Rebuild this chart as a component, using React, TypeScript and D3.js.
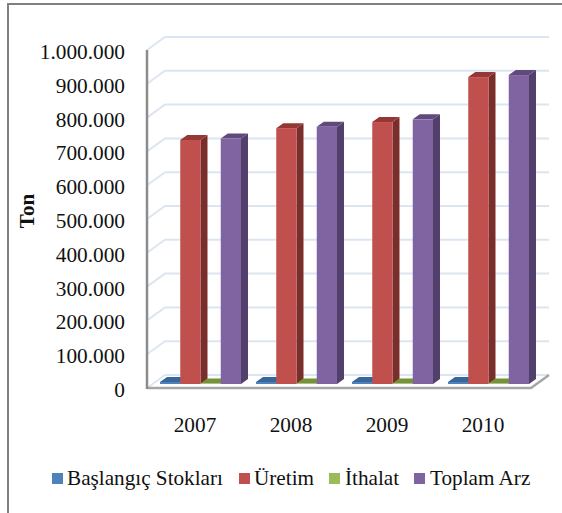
import React from "react";
import * as d3 from "d3";

const years = ["2007", "2008", "2009", "2010"];
const seriesNames = ["Başlangıç Stokları", "Üretim", "İthalat", "Toplam Arz"];
const stocks = [6000, 6000, 6000, 6000];
const production = [722000, 757000, 775000, 908000];
const imports = [1500, 1500, 1500, 1500];
const supply = [726000, 761000, 783000, 914000];
const seriesValues = [stocks, production, imports, supply];
const tickValues = [0, 100000, 200000, 300000, 400000, 500000, 600000, 700000, 800000, 900000, 1000000];
const tickLabels = ["0", "100.000", "200.000", "300.000", "400.000", "500.000", "600.000", "700.000", "800.000", "900.000", "1.000.000"];

const front = ["#4F81BD", "#C0504D", "#9BBB59", "#8064A2"];
const top = ["#3A6596", "#953735", "#76923C", "#5F4A7B"];
const side = ["#2F5480", "#7A2E2C", "#5F7830", "#533F6C"];
const legendX = [[52, 67], [239, 254], [329, 345], [414, 430]];

const FONT = "'Liberation Serif', serif";
const wallDx = 18;
const wallDy = 13;
const barDx = 7;
const barDy = 5;
const baseShift = 4;

const pts = (p: number[][]) => p.map((d) => d.join(",")).join(" ");

const App = () => {
  const y = d3.scaleLinear().domain([0, 1000000]).range([388, 50]);
  const x = d3.scaleBand().domain(years).range([160, 529]).paddingInner(15 / 96);
  const inner = d3.scaleBand().domain(seriesNames).range([0, x.bandwidth()]);
  const left = 147;
  const right = 531;
  const w = inner.bandwidth();

  return (
    <svg width={562} height={513} style={{ position: "absolute", left: 0, top: 0, background: "#fff" }}>
      <path d="M8 513V4H562" fill="none" stroke="#808080" strokeWidth={2} />

      {tickValues.map((v) => (
        <g key={v} fill="none" stroke="#DCE6F2" strokeWidth={2}>
          <polyline points={pts([[left, y(v)], [left + wallDx, y(v) - wallDy], [right + wallDx, y(v) - wallDy]])} />
        </g>
      ))}
      <polyline
        points={pts([[left, y(0)], [right, y(0)], [right + wallDx, y(0) - wallDy]])}
        fill="none"
        stroke="#A6A6A6"
        strokeWidth={2.5}
      />
      <line x1={left} x2={left} y1={y(1000000)} y2={y(0) + 1} stroke="#8C8C8C" strokeWidth={2.5} />

      {years.map((yr, i) =>
        seriesNames.map((name, s) => {
          const x0 = (x(yr) as number) + (inner(name) as number);
          const x1 = x0 + w;
          const y0 = y(0) - baseShift;
          const yv = y(seriesValues[s][i]) - baseShift;
          return (
            <g key={yr + name}>
              <polygon points={pts([[x1, y0], [x1 + barDx, y0 - barDy], [x1 + barDx, yv - barDy], [x1, yv]])} fill={side[s]} />
              <polygon points={pts([[x0, yv], [x0 + barDx, yv - barDy], [x1 + barDx, yv - barDy], [x1, yv]])} fill={top[s]} />
              <rect x={x0} y={yv} width={w} height={y0 - yv} fill={front[s]} />
            </g>
          );
        })
      )}

      <g fontFamily={FONT} fontSize={21.3} fill="#111">
        {tickValues.map((v, i) => (
          <text key={v} x={125} y={y(v) + 9} textAnchor="end">
            {tickLabels[i]}
          </text>
        ))}
        {years.map((yr) => (
          <text key={yr} x={(x(yr) as number) + x.bandwidth() / 2 - 5.5} y={432} textAnchor="middle">
            {yr}
          </text>
        ))}
      </g>

      <text
        transform="translate(34,211) rotate(-90)"
        textAnchor="middle"
        fontFamily={FONT}
        fontSize={21}
        fontWeight="bold"
        fill="#111"
      >
        Ton
      </text>

      <g fontFamily={FONT} fontSize={21.2} fill="#111">
        {seriesNames.map((name, s) => (
          <g key={name}>
            <rect x={legendX[s][0]} y={473} width={11} height={11} fill={front[s]} />
            <text x={legendX[s][1]} y={485}>
              {name}
            </text>
          </g>
        ))}
      </g>
    </svg>
  );
};

export default App;
